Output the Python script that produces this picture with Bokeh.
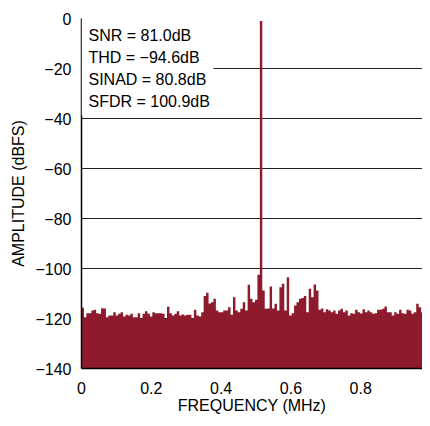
from bokeh.plotting import figure
from bokeh.models import Range1d, FixedTicker, BoxAnnotation, Label
from bokeh.embed import file_html
from bokeh.resources import INLINE
import numpy as np

# ---- data ----
BIN_WIDTH_MHZ = 0.007
AMPLITUDE_DBFS = [
    -115.7, -119.5, -117.9, -117.9, -116.8, -116.5, -117.9, -118.1, -115.9, -116.0,
    -119.5, -118.8, -118.8, -117.5, -118.8, -118.1, -117.5, -119.2, -118.5, -118.8,
    -118.1, -119.5, -119.5, -117.9, -120.1, -118.1, -117.1, -118.1, -119.2, -117.5,
    -117.9, -117.9, -117.9, -118.1, -120.1, -115.3, -117.9, -118.8, -118.1, -117.1,
    -118.8, -118.4, -118.8, -118.5, -118.5, -120.1, -116.5, -118.8, -119.2, -117.5,
    -111.0, -109.7, -114.0, -113.5, -112.1, -116.8, -117.5, -117.5, -116.8, -116.8,
    -115.5, -118.5, -111.5, -116.8, -117.5, -116.1, -113.5, -116.8, -106.5, -112.1,
    -113.5, -112.5, -102.5, -1.0, -108.8, -116.1, -116.0, -107.2, -116.0, -114.1,
    -116.8, -107.5, -106.1, -116.8, -103.5, -118.8, -117.9, -114.8, -113.5, -112.1,
    -111.8, -111.0, -117.5, -108.1, -111.5, -106.4, -108.8, -116.5, -116.0, -117.5,
    -116.3, -116.8, -117.5, -116.8, -118.1, -116.8, -116.1, -117.5, -116.8, -118.8,
    -117.9, -118.1, -116.5, -117.5, -118.0, -116.3, -117.5, -116.8, -117.5, -118.1,
    -117.9, -116.5, -116.5, -116.1, -115.2, -117.5, -117.5, -118.8, -117.5, -118.1,
    -116.5, -117.9, -118.1, -116.5, -116.8, -118.1, -117.5, -114.1, -115.5, -117.5,
    -116.8, -116.0, -116.8,
]
FLOOR_DBFS = -140

X_TICKS = [0, 0.2, 0.4, 0.6, 0.8, 1.0]
X_TICK_LABELS = ["0", "0.2", "0.4", "0.6", "0.8", "1"]
Y_TICKS = [0, -20, -40, -60, -80, -100, -120, -140]
Y_TICK_LABELS = ["0", "\u221220", "\u221240", "\u221260", "\u221280",
                 "\u2212100", "\u2212120", "\u2212140"]

STATS = ["SNR = 81.0dB", "THD = \u221294.6dB", "SINAD = 80.8dB", "SFDR = 100.9dB"]

X_LABEL = "FREQUENCY (MHz)"
Y_LABEL = "AMPLITUDE (dBFS)"

# ---- styling ----
FONT = "Liberation Sans"
FS = "16px"
RED = "#8E1B2D"

n = len(AMPLITUDE_DBFS)
edges = np.arange(n + 1) * BIN_WIDTH_MHZ
tops = list(AMPLITUDE_DBFS) + [AMPLITUDE_DBFS[-1]]

p = figure(width=422, height=418, output_backend="svg", toolbar_location=None,
           x_range=Range1d(0, 0.977), y_range=Range1d(-140, 0),
           min_border_left=81, min_border_right=0, min_border_top=18,
           min_border_bottom=50)

p.varea_step(x=edges, y1=FLOOR_DBFS, y2=tops, step_mode="after",
             fill_color=RED)

p.outline_line_color = None
p.background_fill_color = "white"
p.border_fill_color = "white"

p.xgrid.visible = False
p.ygrid.ticker = FixedTicker(ticks=Y_TICKS)
p.ygrid.grid_line_color = "#222222"
p.ygrid.grid_line_width = 1

p.xaxis.ticker = FixedTicker(ticks=X_TICKS)
p.yaxis.ticker = FixedTicker(ticks=Y_TICKS)
p.xaxis.major_label_overrides = dict(zip(X_TICKS, X_TICK_LABELS))
p.yaxis.major_label_overrides = dict(zip(Y_TICKS, Y_TICK_LABELS))

for ax in (p.xaxis[0], p.yaxis[0]):
    ax.axis_line_color = "black"
    ax.axis_line_width = 1.5
    ax.major_tick_in = 0
    ax.major_tick_out = 0
    ax.minor_tick_in = 0
    ax.minor_tick_out = 0
    ax.major_label_text_font = FONT
    ax.major_label_text_font_size = FS
    ax.major_label_text_color = "black"
    ax.axis_label_text_font = FONT
    ax.axis_label_text_font_size = FS
    ax.axis_label_text_font_style = "normal"
    ax.axis_label_text_color = "black"

p.xaxis.axis_label = X_LABEL
p.yaxis.axis_label = Y_LABEL
p.xaxis.major_label_standoff = 13
p.xaxis.axis_label_standoff = 0
p.yaxis.major_label_standoff = 10
p.yaxis.axis_label_standoff = 5

box = BoxAnnotation(left=0, right=0.378, top=0, bottom=-38.8,
                    fill_color="white", fill_alpha=1.0, line_color=None)
p.add_layout(box)

for i, s in enumerate(STATS):
    p.add_layout(Label(x=0.02, y=-6.6 - 8.9 * i, text=s,
                       text_font=FONT, text_font_size=FS,
                       text_baseline="middle", text_align="left",
                       text_color="black"))

open("out.html", "w").write(file_html(p, INLINE))
